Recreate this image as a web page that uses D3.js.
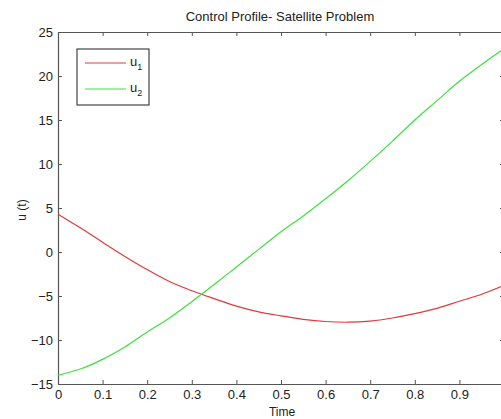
<!DOCTYPE html>
<html lang="en">
<head>
<meta charset="utf-8">
<title>Control Profile- Satellite Problem</title>
<script src="https://d3js.org/d3.v7.min.js"></script>
<style>
  body { margin: 0; background: #fff; overflow: hidden; }
  text { font-family: "Liberation Sans", Arial, sans-serif; fill: #222; }
</style>
</head>
<body>
<script>
var time = [0, 0.05, 0.1, 0.15, 0.2, 0.25, 0.3, 0.35, 0.4, 0.45, 0.5,
            0.55, 0.6, 0.65, 0.7, 0.75, 0.8, 0.85, 0.9, 0.95, 1.0];
var u1 = [4.3, 2.75, 1.1, -0.5, -2.0, -3.35, -4.4, -5.3, -6.15, -6.8, -7.25,
          -7.65, -7.9, -7.98, -7.85, -7.5, -7.0, -6.4, -5.6, -4.8, -3.8];
var u2 = [-14.0, -13.3, -12.2, -10.8, -9.1, -7.5, -5.65, -3.7, -1.7, 0.3, 2.3,
          4.1, 6.05, 8.1, 10.3, 12.6, 15.0, 17.2, 19.4, 21.3, 23.1];
// the tick at 1 falls just past the right edge of the window
var xTicks = [0, 0.1, 0.2, 0.3, 0.4, 0.5, 0.6, 0.7, 0.8, 0.9];
var yTicks = [-15, -10, -5, 0, 5, 10, 15, 20, 25];

var w = 501, h = 419;
var mLeft = 58, mRight = 504, mTop = 32, mBottom = 384;

var svg = d3.select("body").append("svg")
  .attr("width", w).attr("height", h);

var x = d3.scaleLinear().domain([0, 1]).range([mLeft, mRight]);
var y = d3.scaleLinear().domain([-15, 25]).range([mBottom, mTop]);

// axes (MATLAB box style, ticks inside)
function styleAxis(g) {
  g.select(".domain").attr("stroke", "#555").attr("stroke-width", 1.2);
  g.selectAll(".tick line").attr("stroke", "#555");
  g.selectAll(".tick text").style("font-size", "13px").attr("fill", "#222");
}

svg.append("g").attr("transform", "translate(0," + mBottom + ")")
  .call(d3.axisBottom(x).tickValues(xTicks).tickFormat(d3.format("")).tickSizeInner(-4).tickSizeOuter(0).tickPadding(6))
  .call(styleAxis);
svg.append("g").attr("transform", "translate(0," + mTop + ")")
  .call(d3.axisTop(x).tickValues(xTicks).tickFormat("").tickSizeInner(-4).tickSizeOuter(0))
  .call(styleAxis);
svg.append("g").attr("transform", "translate(" + mLeft + ",0)")
  .call(d3.axisLeft(y).tickValues(yTicks).tickSizeInner(-4).tickSizeOuter(0).tickPadding(5))
  .call(styleAxis);
svg.append("g").attr("transform", "translate(" + mRight + ",0)")
  .call(d3.axisRight(y).tickValues(yTicks).tickFormat("").tickSizeInner(-4).tickSizeOuter(0))
  .call(styleAxis);

var line = d3.line()
  .x(function(d, i) { return x(time[i]); })
  .y(function(d) { return y(d); })
  .curve(d3.curveCatmullRom);

svg.append("path").datum(u1).attr("d", line)
  .attr("fill", "none").attr("stroke", "#e03a3a").attr("stroke-width", 1.2);
svg.append("path").datum(u2).attr("d", line)
  .attr("fill", "none").attr("stroke", "#3ee03e").attr("stroke-width", 1.2);

// title and labels
svg.append("text").attr("x", (mLeft + mRight) / 2 - 1).attr("y", 21)
  .attr("text-anchor", "middle").style("font-size", "13px")
  .text("Control Profile- Satellite Problem");
svg.append("text").attr("x", (mLeft + mRight) / 2 + 1).attr("y", 416)
  .attr("text-anchor", "middle").style("font-size", "12px")
  .text("Time");
svg.append("text").attr("transform", "translate(26,210) rotate(-90)")
  .attr("text-anchor", "middle").style("font-size", "12px")
  .text("u (t)");

// legend
var legend = svg.append("g");
legend.append("rect").attr("x", 77).attr("y", 49).attr("width", 72).attr("height", 56)
  .attr("fill", "#fff").attr("stroke", "#444").attr("stroke-width", 1.2);
var items = [{name: "1", color: "#e03a3a", yy: 63}, {name: "2", color: "#3ee03e", yy: 89}];
items.forEach(function(it) {
  legend.append("line").attr("x1", 85).attr("x2", 126).attr("y1", it.yy).attr("y2", it.yy)
    .attr("stroke", it.color).attr("stroke-width", 1.2);
  var t = legend.append("text").attr("x", 130).attr("y", it.yy + 3).style("font-size", "13px");
  t.append("tspan").text("u");
  t.append("tspan").attr("dy", 4).style("font-size", "9px").text(it.name);
});
</script>
</body>
</html>
